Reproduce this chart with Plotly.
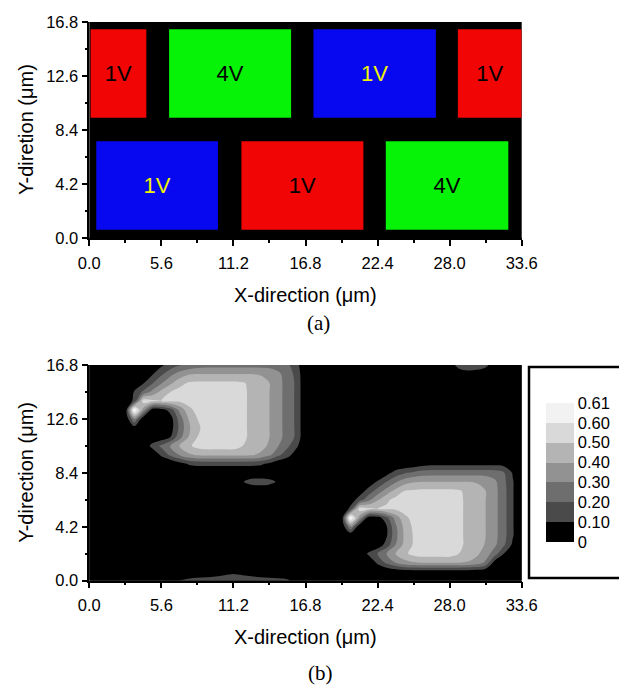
import numpy as np
import plotly.graph_objects as go

# ---------------- panel (a): pixel layout ----------------
pixel_x0 = [0.10, 6.20, 17.42, 28.64, 0.54, 11.82, 23.04]
pixel_x1 = [4.43, 15.68, 26.93, 33.60, 10.00, 21.30, 32.56]
pixel_y0 = [9.36, 9.36, 9.36, 9.36, 0.65, 0.65, 0.65]
pixel_y1 = [16.23, 16.23, 16.23, 16.23, 7.52, 7.52, 7.52]
pixel_voltage = ["1V", "4V", "1V", "1V", "1V", "1V", "4V"]
pixel_kind = ["red", "green", "blue", "red", "blue", "red", "green"]

# ---------------- ticks ----------------
x_tick_vals = [0.0, 5.6, 11.2, 16.8, 22.4, 28.0, 33.6]
x_tick_text = ["0.0", "5.6", "11.2", "16.8", "22.4", "28.0", "33.6"]
y_tick_vals = [0.0, 4.2, 8.4, 12.6, 16.8]
y_tick_text = ["0.0", "4.2", "8.4", "12.6", "16.8"]

# ---------------- panel (b): field values (x100), grid step 0.7 um ----------------
grid_step = 0.7
grid_nx, grid_ny = 49, 25

# lower-right comet, origin x=19.6, y=0.0 (rows go up in y)
comet_lower_origin = (19.6, 0.0)
comet_lower = [
    [0, 0, 0, 0, 0, 0, 0, 0, 0, 0, 0, 0, 0, 0, 0, 0, 0, 0, 0, 0, 0],
    [0, 0, 0, 0, 0, 0, 2, 4, 4, 4, 4, 4, 4, 4, 4, 3, 1, 0, 0, 0, 0],
    [0, 0, 0, 0, 12, 22, 30, 36, 39, 40, 40, 40, 40, 40, 39, 36, 28, 5, 0, 0, 0],
    [0, 0, 0, 12, 20, 30, 40, 48, 53, 55, 55, 55, 55, 50, 47, 42, 35, 25, 10, 0, 0],
    [0, 0, 0, 0, 3, 14, 30, 43, 51, 55, 56, 56, 56, 52, 48, 45, 39, 32, 22, 8, 0],
    [0, 0, 0, 0, 0, 9, 27, 42, 51, 55, 57, 57, 57, 52, 48, 45, 40, 33, 24, 11, 0],
    [0, 30, 2, 0, 1, 9, 28, 43, 52, 56, 58, 58, 58, 52, 48, 45, 40, 33, 24, 11, 0],
    [0, 61, 35, 4, 5, 17, 34, 47, 54, 57, 58, 58, 58, 52, 48, 45, 40, 33, 24, 11, 0],
    [0, 13, 55, 52, 50, 52, 52, 55, 57, 57, 57, 57, 57, 52, 48, 45, 40, 33, 24, 11, 0],
    [0, 4, 15, 27, 39, 48, 53, 55, 56, 56, 56, 56, 56, 52, 48, 45, 40, 33, 24, 11, 0],
    [0, 0, 4, 14, 24, 34, 43, 50, 51, 52, 52, 52, 52, 51, 48, 45, 40, 33, 24, 11, 0],
    [0, 0, 0, 3, 11, 20, 29, 36, 39, 40, 40, 40, 40, 40, 40, 39, 37, 32, 23, 11, 0],
    [0, 0, 0, 0, 2, 6, 14, 19, 22, 25, 26, 26, 26, 26, 26, 26, 26, 25, 21, 9, 0],
    [0, 0, 0, 0, 0, 0, 0, 1, 3, 5, 7, 7, 7, 7, 7, 7, 7, 7, 6, 3, 0],
    [0, 0, 0, 0, 0, 0, 0, 0, 0, 0, 0, 0, 0, 0, 0, 0, 0, 0, 0, 0, 0],
]

# upper-left comet, origin x=2.8, y=8.4
comet_upper_origin = (2.8, 8.4)
comet_upper = [
    [0, 0, 0, 0, 0, 0, 0, 0, 0, 0, 0, 0, 0, 0, 0, 0, 0, 0, 0, 0, 0],
    [0, 0, 0, 0, 0, 0, 6, 11, 13, 13, 13, 13, 13, 13, 13, 12, 8, 2, 0, 0, 0],
    [0, 0, 0, 0, 12, 22, 30, 38, 41, 42, 42, 42, 42, 42, 41, 38, 32, 22, 14, 4, 0],
    [0, 0, 0, 14, 22, 31, 40, 48, 53, 55, 55, 55, 55, 50, 47, 44, 38, 30, 22, 12, 0],
    [0, 0, 0, 0, 3, 10, 26, 40, 50, 55, 56, 56, 56, 52, 48, 45, 40, 33, 26, 18, 0],
    [0, 5, 0, 0, 0, 5, 22, 38, 48, 54, 57, 57, 57, 52, 48, 45, 40, 33, 26, 18, 0],
    [0, 30, 2, 0, 1, 5, 24, 40, 50, 55, 58, 58, 58, 52, 48, 45, 40, 33, 26, 18, 0],
    [0, 61, 35, 4, 5, 14, 32, 46, 54, 57, 58, 58, 58, 52, 48, 45, 40, 33, 26, 18, 0],
    [0, 13, 55, 52, 50, 52, 52, 55, 57, 57, 57, 57, 57, 52, 48, 45, 40, 33, 26, 18, 0],
    [0, 11, 22, 33, 43, 50, 54, 55, 56, 56, 56, 56, 56, 52, 48, 45, 40, 33, 26, 18, 0],
    [0, 0, 9, 19, 29, 38, 46, 51, 52, 52, 52, 52, 52, 51, 48, 45, 40, 33, 26, 18, 0],
    [0, 0, 0, 9, 18, 27, 34, 39, 40, 40, 40, 40, 40, 40, 40, 39, 37, 32, 25, 17, 0],
    [0, 0, 0, 0, 8, 14, 19, 22, 25, 26, 26, 26, 26, 26, 26, 26, 26, 25, 22, 14, 0],
]

# small weak spots
spot_mid_origin = (11.9, 7.7)
spot_mid = [[9, 15, 16, 14, 8]]
spot_bottom_origin = (7.0, 0.0)
spot_bottom = [
    [11, 13, 15, 16, 17, 18, 19, 18, 17, 16, 15, 14, 12, 4],
    [0, 0, 0, 0, 2, 5, 7, 5, 3, 0, 0, 0, 0, 0],
]
spot_top_origin = (28.0, 16.1)
spot_top = [
    [0, 2, 5, 4, 2, 0],
    [3, 15, 18, 17, 13, 3],
]

# legend levels
level_labels = ["0", "0.10", "0.20", "0.30", "0.40", "0.50", "0.60", "0.61"]
level_colors = ["#000000", "#4a4a4a", "#6e6e6e", "#929292", "#b4b4b4", "#d9d9d9", "#f2f2f2"]

# ---------------- build field ----------------
grid_x = np.round(np.arange(grid_nx) * grid_step, 2)
grid_y = np.round(np.arange(grid_ny) * grid_step, 2)
field = np.zeros((grid_ny, grid_nx))
for origin, patch in [(comet_lower_origin, comet_lower), (comet_upper_origin, comet_upper),
                      (spot_mid_origin, spot_mid), (spot_bottom_origin, spot_bottom),
                      (spot_top_origin, spot_top)]:
    arr = np.array(patch, dtype=float)
    i0 = int(round(origin[0] / grid_step))
    j0 = int(round(origin[1] / grid_step))
    sub = field[j0:j0 + arr.shape[0], i0:i0 + arr.shape[1]]
    field[j0:j0 + arr.shape[0], i0:i0 + arr.shape[1]] = np.maximum(sub, arr[:sub.shape[0], :sub.shape[1]])
value = field / 100.0
# legend scale: equal-height bands, the last band 0.60-0.61
band = np.where(value <= 0.6, value * 10.0, 6.0 + (value - 0.6) * 100.0)

# ---------------- figure ----------------
W, H = 619, 692
FONT = "Liberation Sans, Arial, sans-serif"
SERIF = "Liberation Serif, Times New Roman, serif"
kind_color = {"red": "#f20505", "green": "#06f206", "blue": "#0707f0"}
text_color = {"red": "#000000", "green": "#000000", "blue": "#f2f200"}

fig = go.Figure()
fig.add_trace(go.Bar(
    x=[(a + b) / 2 for a, b in zip(pixel_x0, pixel_x1)],
    width=[b - a for a, b in zip(pixel_x0, pixel_x1)],
    base=pixel_y0,
    y=[b - a for a, b in zip(pixel_y0, pixel_y1)],
    marker=dict(color=[kind_color[k] for k in pixel_kind], line=dict(width=0)),
    text=pixel_voltage,
    textposition="inside", insidetextanchor="middle", textangle=0,
    constraintext="none",
    textfont=dict(family=FONT, size=22, color=[text_color[k] for k in pixel_kind]),
    hoverinfo="skip", showlegend=False, xaxis="x", yaxis="y",
))

# stepwise grey scale: band k is constant over z in [k-0.25, k+0.75]
n = len(level_colors)
top = n - 1
cs = [[0.0, level_colors[0]]]
for k in range(n - 1):
    b = (k + 0.75) / top
    cs.append([b, level_colors[k]])
    cs.append([b + 1e-4, level_colors[k + 1]])
cs.append([1.0, level_colors[-1]])

fig.add_trace(go.Contour(
    x=grid_x, y=grid_y, z=band, xaxis="x2", yaxis="y2",
    zmin=0, zmax=7, colorscale=cs,
    contours=dict(start=1, end=6, size=1, coloring="fill", showlines=False),
    line=dict(width=0, smoothing=1.0),
    hoverinfo="skip",
    colorbar=dict(
        x=529 / W, xanchor="left", y=1 - 472.5 / H, yanchor="middle",
        len=211, lenmode="pixels", thickness=28, thicknessmode="pixels",
        xpad=17, ypad=36, outlinewidth=0, borderwidth=0,
        bgcolor="rgba(0,0,0,0)", tickvals=list(range(8)), ticktext=level_labels,
        ticks="", tickfont=dict(family=FONT, size=16.5, color="black"),
    ),
))

xdom = [89.3 / W, 521.7 / W]
ydom_a = [1 - 238 / H, 1 - 22 / H]
ydom_b = [1 - 580.7 / H, 1 - 365 / H]

def xaxis(anchor):
    return dict(domain=xdom, anchor=anchor, range=[0, 33.6], tickvals=x_tick_vals, ticktext=x_tick_text,
                ticks="outside", ticklen=6, tickwidth=1.5, tickcolor="black",
                minor=dict(tick0=0, dtick=2.8, ticks="outside", ticklen=3, tickwidth=1.5, tickcolor="black"),
                showline=True, linecolor="black", linewidth=1.5, mirror=False,
                showgrid=False, zeroline=False, fixedrange=True, automargin=False,
                ticklabelstandoff=3,
                tickfont=dict(family=FONT, size=16.5, color="black"))

def yaxis(dom, anchor):
    return dict(domain=dom, anchor=anchor, range=[0, 16.8], tickvals=y_tick_vals, ticktext=y_tick_text,
                ticks="outside", ticklen=6, tickwidth=1.5, tickcolor="black",
                minor=dict(tick0=0, dtick=2.1, ticks="outside", ticklen=3, tickwidth=1.5, tickcolor="black"),
                showline=True, linecolor="black", linewidth=1.5, mirror=False,
                showgrid=False, zeroline=False, fixedrange=True, automargin=False,
                tickfont=dict(family=FONT, size=16.5, color="black"))

annots = [
    dict(text="Y-diretion (μm)", x=26 / W, y=1 - 130 / H, textangle=-90, font=dict(family=FONT, size=20)),
    dict(text="X-direction (μm)", x=305 / W, y=1 - 295 / H, font=dict(family=FONT, size=20)),
    dict(text="(a)", x=318 / W, y=1 - 323 / H, font=dict(family=SERIF, size=21)),
    dict(text="Y-direction (μm)", x=26 / W, y=1 - 472.85 / H, textangle=-90, font=dict(family=FONT, size=20)),
    dict(text="X-direction (μm)", x=305 / W, y=1 - 637 / H, font=dict(family=FONT, size=20)),
    dict(text="(b)", x=320 / W, y=1 - 673 / H, font=dict(family=SERIF, size=21)),
]
for a in annots:
    a.update(xref="paper", yref="paper", showarrow=False, xanchor="center", yanchor="middle")
    a["font"]["color"] = "black"

# legend frame (runs past the right edge of the page, as in the reference)
legend_frame = dict(type="rect", xref="paper", yref="paper",
                    x0=529 / W, x1=1.05, y0=1 - 578 / H, y1=1 - 367 / H,
                    line=dict(color="black", width=2.5), fillcolor="rgba(0,0,0,0)", layer="above")

fig.update_layout(
    width=W, height=H, margin=dict(l=0, r=0, t=0, b=0, autoexpand=False),
    paper_bgcolor="white", plot_bgcolor="black",
    xaxis=xaxis("y"), yaxis=yaxis(ydom_a, "x"),
    xaxis2=xaxis("y2"), yaxis2=yaxis(ydom_b, "x2"),
    annotations=annots, shapes=[legend_frame], showlegend=False,
    font=dict(family=FONT, color="black"),
)

fig.write_html("out.html")
